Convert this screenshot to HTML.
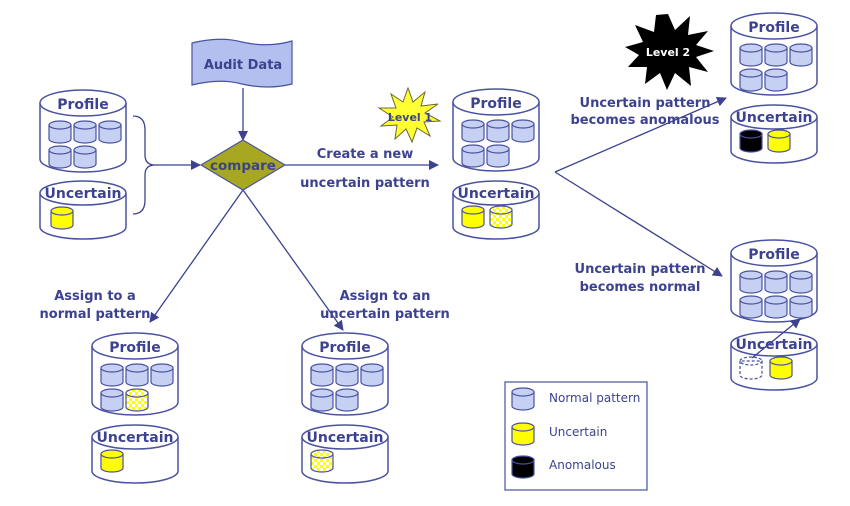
<!DOCTYPE html>
<html><head><meta charset="utf-8"><style>
html,body{margin:0;padding:0;background:#fff}
svg{display:block}
text{font-family:"DejaVu Sans","Liberation Sans",sans-serif;font-weight:bold;fill:#3c4290}
</style></head><body>
<svg width="850" height="506" viewBox="0 0 850 506" xmlns="http://www.w3.org/2000/svg">
<defs>
<pattern id="chk" width="6" height="6" patternUnits="userSpaceOnUse"><rect width="6" height="6" fill="#fff"/><rect width="3" height="3" fill="#ffff00"/><rect x="3" y="3" width="3" height="3" fill="#ffff00"/></pattern>
<g id="sb"><path d="M0,4 V18 A11,4 0 0 0 22,18 V4 Z" fill="#c5d0f2" stroke="#4a52a0" stroke-width="1.2"/><ellipse cx="11" cy="4" rx="11" ry="4" fill="#c5d0f2" stroke="#4a52a0" stroke-width="1.2"/></g>
<g id="sy"><path d="M0,4 V18 A11,4 0 0 0 22,18 V4 Z" fill="#ffff00" stroke="#4a52a0" stroke-width="1.2"/><ellipse cx="11" cy="4" rx="11" ry="4" fill="#ffff00" stroke="#4a52a0" stroke-width="1.2"/></g>
<g id="sk"><path d="M0,4 V18 A11,4 0 0 0 22,18 V4 Z" fill="#000" stroke="#4a52a0" stroke-width="1.2"/><ellipse cx="11" cy="4" rx="11" ry="4" fill="#000" stroke="#4a52a0" stroke-width="1.2"/></g>
<g id="sc"><path d="M0,4 V18 A11,4 0 0 0 22,18 V4 Z" fill="url(#chk)" stroke="#4a52a0" stroke-width="1.2"/><ellipse cx="11" cy="4" rx="11" ry="4" fill="url(#chk)" stroke="#4a52a0" stroke-width="1.2"/></g>
<g id="sd"><path d="M0,4 V18 A11,4 0 0 0 22,18 V4 Z" fill="#fff" stroke="#4a52a0" stroke-width="1.2" stroke-dasharray="3,2"/><ellipse cx="11" cy="4" rx="11" ry="4" fill="none" stroke="#4a52a0" stroke-width="1.2" stroke-dasharray="3,2"/></g>
<g id="bp"><path d="M0,13 V69 A43,13 0 0 0 86,69 V13" fill="#fff" stroke="#4a52a0" stroke-width="1.5"/><ellipse cx="43" cy="13" rx="43" ry="13" fill="#fff" stroke="#4a52a0" stroke-width="1.5"/><text x="43" y="19" font-size="14" text-anchor="middle">Profile</text></g>
<g id="bu"><path d="M0,12 V46 A43,12 0 0 0 86,46 V12" fill="#fff" stroke="#4a52a0" stroke-width="1.5"/><ellipse cx="43" cy="12" rx="43" ry="12" fill="#fff" stroke="#4a52a0" stroke-width="1.5"/><text x="43" y="17" font-size="14" text-anchor="middle">Uncertain</text></g>
<marker id="ar" markerWidth="10" markerHeight="10" refX="9" refY="5" orient="auto" markerUnits="userSpaceOnUse"><path d="M0,0 L10,5 L0,10 Z" fill="#3c4290"/></marker>
</defs>
<g stroke="#3c4290" stroke-width="1.3" fill="none">
<line x1="243" y1="88" x2="243" y2="140" marker-end="url(#ar)"/>
<path d="M133,116 Q145,116 145,130 V155 Q145,165 155,165 Q145,165 145,175 V200 Q145,214 133,214"/>
<line x1="155" y1="165" x2="200" y2="165" marker-end="url(#ar)"/>
<line x1="285" y1="165" x2="438" y2="165" marker-end="url(#ar)"/>
<line x1="243" y1="190" x2="150" y2="322" marker-end="url(#ar)"/>
<line x1="243" y1="190" x2="343" y2="330" marker-end="url(#ar)"/>
<line x1="555" y1="172" x2="726" y2="98" marker-end="url(#ar)"/>
<line x1="555" y1="172" x2="722" y2="276" marker-end="url(#ar)"/>
</g>
<path d="M192,43 Q220,36 242,42 Q268,48 292,41 V84 Q268,90 242,84 Q220,78 192,85 Z" fill="#b3c0ef" stroke="#4a52a0" stroke-width="1.2"/>
<text x="243" y="69" font-size="13" text-anchor="middle">Audit Data</text>
<path d="M243,140 L285,165 L243,190 L201,165 Z" fill="#a8a820" stroke="#4a52a0" stroke-width="1.2"/>
<text x="243" y="170" font-size="13.5" text-anchor="middle">compare</text>
<text x="365" y="158" font-size="13" text-anchor="middle">Create a new</text>
<text x="365" y="187" font-size="13" text-anchor="middle">uncertain pattern</text>
<text x="95" y="300" font-size="13" text-anchor="middle">Assign to a</text>
<text x="95" y="318" font-size="13" text-anchor="middle">normal pattern</text>
<text x="385" y="300" font-size="13" text-anchor="middle">Assign to an</text>
<text x="385" y="318" font-size="13" text-anchor="middle">uncertain pattern</text>
<text x="645" y="107" font-size="13" text-anchor="middle">Uncertain pattern</text>
<text x="645" y="124" font-size="13" text-anchor="middle">becomes anomalous</text>
<text x="640" y="273" font-size="13" text-anchor="middle">Uncertain pattern</text>
<text x="640" y="291" font-size="13" text-anchor="middle">becomes normal</text>
<g transform="translate(40,90)"><use href="#bp"/><use href="#sb" x="9" y="31"/><use href="#sb" x="34" y="31"/><use href="#sb" x="59" y="31"/><use href="#sb" x="9" y="56"/><use href="#sb" x="34" y="56"/></g>
<g transform="translate(40,181)"><use href="#bu"/><use href="#sy" x="11" y="26"/></g>
<g transform="translate(453,89)"><use href="#bp"/><use href="#sb" x="9" y="31"/><use href="#sb" x="34" y="31"/><use href="#sb" x="59" y="31"/><use href="#sb" x="9" y="56"/><use href="#sb" x="34" y="56"/></g>
<g transform="translate(453,181)"><use href="#bu"/><use href="#sy" x="9" y="25"/><use href="#sc" x="37" y="25"/></g>
<g transform="translate(731,13)"><use href="#bp"/><use href="#sb" x="9" y="31"/><use href="#sb" x="34" y="31"/><use href="#sb" x="59" y="31"/><use href="#sb" x="9" y="56"/><use href="#sb" x="34" y="56"/></g>
<g transform="translate(731,105)"><use href="#bu"/><use href="#sk" x="9" y="25"/><use href="#sy" x="37" y="25"/></g>
<g transform="translate(731,240)"><use href="#bp"/><use href="#sb" x="9" y="31"/><use href="#sb" x="34" y="31"/><use href="#sb" x="59" y="31"/><use href="#sb" x="9" y="56"/><use href="#sb" x="34" y="56"/><use href="#sb" x="59" y="56"/></g>
<g transform="translate(731,332)"><use href="#bu"/><use href="#sd" x="9" y="25"/><use href="#sy" x="39" y="25"/></g>
<line x1="752" y1="358" x2="800" y2="319" stroke="#3c4290" stroke-width="1.3" marker-end="url(#ar)"/>
<g transform="translate(92,333)"><use href="#bp"/><use href="#sb" x="9" y="31"/><use href="#sb" x="34" y="31"/><use href="#sb" x="59" y="31"/><use href="#sb" x="9" y="56"/><use href="#sc" x="34" y="56"/></g>
<g transform="translate(92,425)"><use href="#bu"/><use href="#sy" x="9" y="25"/></g>
<g transform="translate(302,333)"><use href="#bp"/><use href="#sb" x="9" y="31"/><use href="#sb" x="34" y="31"/><use href="#sb" x="59" y="31"/><use href="#sb" x="9" y="56"/><use href="#sb" x="34" y="56"/></g>
<g transform="translate(302,425)"><use href="#bu"/><use href="#sc" x="9" y="25"/></g>
<polygon points="408,88 413,102 425,92 421,106 438,104 425,113 440,121 424,122 430,136 417,128 412,142 406,129 395,139 397,125 381,126 393,117 379,108 396,108 391,94 403,102" fill="#ffff33" stroke="#6a6a30" stroke-width="1"/>
<text x="410" y="121" font-size="11" text-anchor="middle">Level 1</text>
<polygon points="668,14 675,30 690,16 688,35 708,31 696,45 714,51 696,57 708,72 689,67 691,86 675,73 667,90 660,73 645,84 647,67 628,67 639,55 625,47 643,42 635,25 654,32 656,15" fill="#000"/>
<text x="668" y="56" font-size="11" text-anchor="middle" style="fill:#fff">Level 2</text>
<rect x="505" y="382" width="142" height="108" fill="#fff" stroke="#4a52a0" stroke-width="1.2"/>
<use href="#sb" x="512" y="388"/><use href="#sy" x="512" y="423"/><use href="#sk" x="512" y="456"/>
<text x="549" y="402" font-size="12" style="font-weight:normal">Normal pattern</text>
<text x="549" y="436" font-size="12" style="font-weight:normal">Uncertain</text>
<text x="549" y="469" font-size="12" style="font-weight:normal">Anomalous</text>
</svg>
</body></html>
